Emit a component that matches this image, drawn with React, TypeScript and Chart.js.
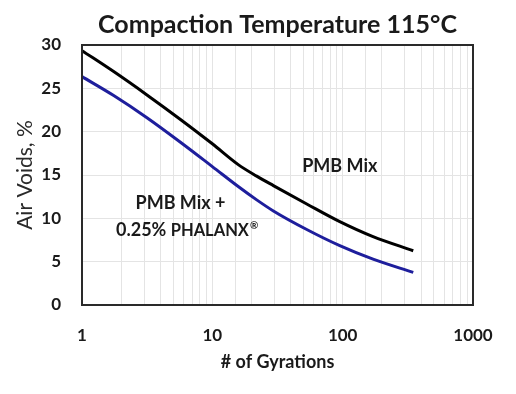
import React, { useEffect, useRef } from 'react';
import { Chart, registerables } from 'chart.js';

Chart.register(...registerables);

// ---- data ----
const gyrations = [1, 1.75, 3.15, 5.66, 10, 15.8, 21.9, 29.4, 53, 95, 171, 348];
const pmbMix = [29.35, 26.93, 24.24, 21.44, 18.6, 16.2, 14.87, 13.78, 11.66, 9.62, 7.89, 6.26];
const pmbPhalanx = [26.35, 24.17, 21.61, 18.81, 15.97, 13.67, 12.13, 10.85, 8.71, 6.85, 5.29, 3.76];
const seriesNames = ['PMB Mix', 'PMB Mix + 0.25% PHALANX®'];
const yMin = 0;
const yMax = 30;
const yStep = 5;
const xMin = 1;
const xMax = 1000;
const xTickLabels = [1, 10, 100, 1000];
const titleText = 'Compaction Temperature 115°C';
const xTitle = '# of Gyrations';
const yTitle = 'Air Voids, %';
// annotation anchors in data units
const labelPmb = { text: 'PMB Mix', x: 95, y: 16.0 };
const labelPhalanx1 = { text: 'PMB Mix +', x: 5.7, y: 11.8 };
const labelPhalanx2 = { parts: ['0.25% ', 'PHALANX', '®'], x: 6.4, y: 8.65 };

const FONT = 'Lato, "Open Sans", sans-serif';

const framePlugin = {
  id: 'frameAndLabels',
  afterDatasetsDraw(chart: any) {
    const { ctx, chartArea, scales } = chart;
    ctx.save();
    ctx.strokeStyle = '#2a2a2a';
    ctx.lineWidth = 2;
    ctx.strokeRect(chartArea.left, chartArea.top, chartArea.right - chartArea.left, chartArea.bottom - chartArea.top);

    ctx.fillStyle = '#1a1a1a';
    ctx.textBaseline = 'middle';
    ctx.textAlign = 'center';
    ctx.font = `bold 18px ${FONT}`;
    ctx.fillText(labelPmb.text, scales.x.getPixelForValue(labelPmb.x), scales.y.getPixelForValue(labelPmb.y));
    ctx.fillText(labelPhalanx1.text, scales.x.getPixelForValue(labelPhalanx1.x), scales.y.getPixelForValue(labelPhalanx1.y));

    // mixed run: "0.25% " + "PHALANX" + superscript ®
    const f1 = `bold 18px ${FONT}`;
    const f2 = `bold 16.5px ${FONT}`;
    const f3 = `bold 10px ${FONT}`;
    ctx.font = f1; const w1 = ctx.measureText(labelPhalanx2.parts[0]).width;
    ctx.font = f2; const w2 = ctx.measureText(labelPhalanx2.parts[1]).width;
    ctx.font = f3; const w3 = ctx.measureText(labelPhalanx2.parts[2]).width;
    const cx = scales.x.getPixelForValue(labelPhalanx2.x);
    const cy = scales.y.getPixelForValue(labelPhalanx2.y);
    let x0 = cx - (w1 + w2 + w3 + 1) / 2;
    ctx.textAlign = 'left';
    ctx.font = f1; ctx.fillText(labelPhalanx2.parts[0], x0, cy); x0 += w1;
    ctx.font = f2; ctx.fillText(labelPhalanx2.parts[1], x0, cy + 0.5); x0 += w2 + 1;
    ctx.font = f3; ctx.fillText(labelPhalanx2.parts[2], x0, cy - 4);
    ctx.restore();
  },
};

export default function App() {
  const ref = useRef<HTMLCanvasElement | null>(null);

  useEffect(() => {
    document.body.style.margin = '0';
    const canvas = ref.current;
    if (!canvas) return;
    const chart = new Chart(canvas, {
      type: 'line',
      data: {
        datasets: [
          {
            label: seriesNames[0],
            data: gyrations.map((g, i) => ({ x: g, y: pmbMix[i] })),
            borderColor: '#000000',
            borderWidth: 3,
            pointRadius: 0,
            cubicInterpolationMode: 'monotone',
            fill: false,
          },
          {
            label: seriesNames[1],
            data: gyrations.map((g, i) => ({ x: g, y: pmbPhalanx[i] })),
            borderColor: '#1e1e9c',
            borderWidth: 3,
            pointRadius: 0,
            cubicInterpolationMode: 'monotone',
            fill: false,
          },
        ],
      },
      options: {
        responsive: false,
        animation: false,
        layout: { padding: { left: 0, right: 43, top: 0, bottom: 0 } },
        plugins: {
          legend: { display: false },
          tooltip: { enabled: false },
          title: {
            display: true,
            text: titleText,
            fullSize: false,
            color: '#1a1a1a',
            font: { family: FONT, size: 25, weight: 'bold' },
            padding: { top: 10, bottom: 5 },
          },
        },
        scales: {
          x: {
            type: 'logarithmic',
            min: xMin,
            max: xMax,
            afterFit: (s: any) => { s.height = 89; },
            grid: { color: '#e4e4e4', lineWidth: 1, drawTicks: false },
            border: { display: false },
            ticks: {
              autoSkip: false,
              maxRotation: 0,
              padding: 20,
              color: '#1a1a1a',
              font: { family: FONT, size: 17, weight: 'bold' },
              callback: (v: any) => (xTickLabels.includes(Number(v)) ? String(v) : ''),
            },
            title: {
              display: true,
              text: xTitle,
              color: '#1a1a1a',
              font: { family: FONT, size: 18, weight: 'bold' },
              padding: { top: 0, bottom: 21 },
            },
          },
          y: {
            min: yMin,
            max: yMax,
            afterFit: (s: any) => { s.width = 82; },
            grid: { color: '#e4e4e4', lineWidth: 1, drawTicks: false },
            border: { display: false },
            ticks: {
              stepSize: yStep,
              padding: 21,
              color: '#1a1a1a',
              font: { family: FONT, size: 17, weight: 'bold' },
            },
            title: {
              display: true,
              text: yTitle,
              color: '#2a2a2a',
              font: { family: FONT, size: 21, weight: 'normal' },
              padding: { top: 13, bottom: 0 },
            },
          },
        },
      },
      plugins: [framePlugin],
    });
    return () => chart.destroy();
  }, []);

  return (
    <div style={{ width: 516, height: 394 }}>
      <canvas ref={ref} width={516} height={394} style={{ display: 'block' }} />
    </div>
  );
}
